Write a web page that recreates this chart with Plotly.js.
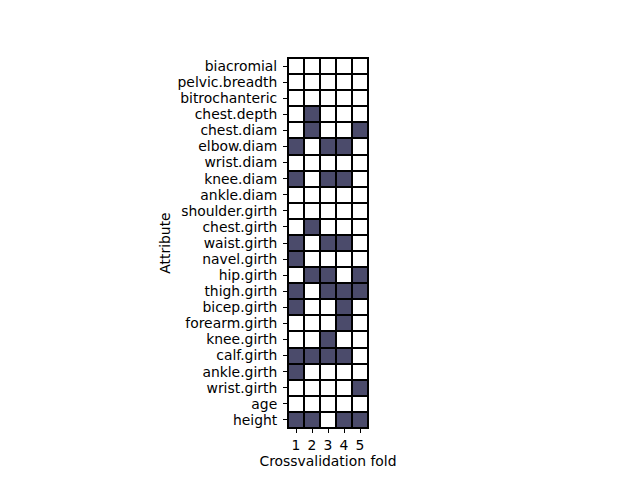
<!DOCTYPE html>
<html>
<head>
<meta charset="utf-8">
<script src="https://cdn.plot.ly/plotly-3.0.1.min.js"></script>
<style>html,body{margin:0;padding:0;background:#fff;}</style>
</head>
<body>
<div id="chart" style="width:640px;height:480px;"></div>
<script>
const attributes = ["biacromial","pelvic.breadth","bitrochanteric","chest.depth","chest.diam","elbow.diam","wrist.diam","knee.diam","ankle.diam","shoulder.girth","chest.girth","waist.girth","navel.girth","hip.girth","thigh.girth","bicep.girth","forearm.girth","knee.girth","calf.girth","ankle.girth","wrist.girth","age","height"];
const folds = [1, 2, 3, 4, 5];
// 1 = selected in that crossvalidation fold
const fold1 = [0,0,0,0,0,1,0,1,0,0,0,1,1,0,1,1,0,0,1,1,0,0,1];
const fold2 = [0,0,0,1,1,0,0,0,0,0,1,0,0,1,0,0,0,0,1,0,0,0,1];
const fold3 = [0,0,0,0,0,1,0,1,0,0,0,1,0,1,1,0,0,1,1,0,0,0,0];
const fold4 = [0,0,0,0,0,1,0,1,0,0,0,1,0,0,1,1,1,0,1,0,0,0,1];
const fold5 = [0,0,0,0,1,0,0,0,0,0,0,0,0,1,1,0,0,0,0,0,1,0,1];

const foldCols = [fold1, fold2, fold3, fold4, fold5];
const z = attributes.map((a, i) => foldCols.map(col => col[i]));

const trace = {
  type: 'heatmap',
  x: folds,
  y: attributes,
  z: z,
  zmin: 0, zmax: 1,
  colorscale: [[0, '#ffffff'], [1, '#4b4b6b']],
  showscale: false,
  xgap: 2, ygap: 2,
  hoverinfo: 'skip'
};

const font = {family: 'DejaVu Sans', size: 13.9, color: '#000'};
const layout = {
  width: 640, height: 480,
  margin: {l: 288, r: 272, t: 58, b: 52, pad: 0},
  paper_bgcolor: '#fff',
  plot_bgcolor: '#000',
  font: font,
  showlegend: false,
  xaxis: {
    title: {text: 'Crossvalidation fold', font: font, standoff: 4},
    tickmode: 'array', tickvals: folds, ticktext: folds.map(String),
    ticks: 'outside', ticklen: 4, tickcolor: '#000', tickwidth: 1,
    showgrid: false, zeroline: false,
    showline: true, linecolor: '#000', linewidth: 1, mirror: true,
    range: [0.5, 5.5], fixedrange: true
  },
  yaxis: {
    title: {text: 'Attribute', font: font, standoff: 3},
    type: 'category',
    tickmode: 'array', tickvals: attributes, ticktext: attributes,
    autorange: 'reversed',
    ticks: 'outside', ticklen: 4, tickcolor: '#000', tickwidth: 1,
    ticklabelstandoff: 3,
    showgrid: false, zeroline: false,
    showline: true, linecolor: '#000', linewidth: 1, mirror: true,
    fixedrange: true
  }
};

Plotly.newPlot('chart', [trace], layout, {displayModeBar: false, staticPlot: true});
</script>
</body>
</html>
